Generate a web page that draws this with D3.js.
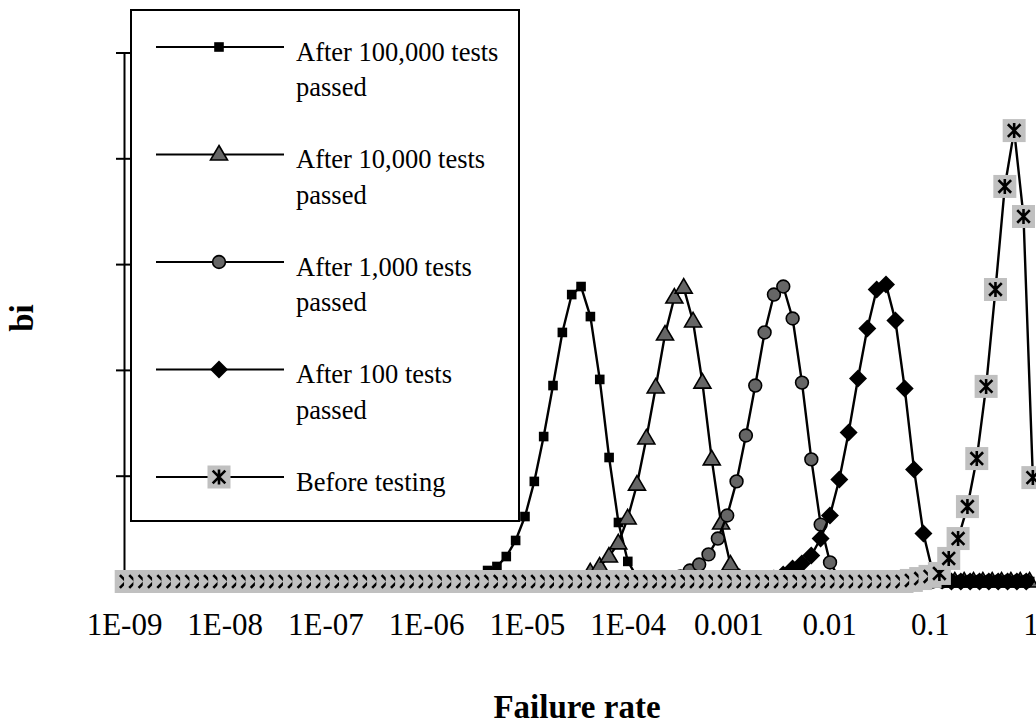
<!DOCTYPE html>
<html>
<head>
<meta charset="utf-8">
<script src="https://cdn.jsdelivr.net/npm/d3@7"></script>
<style>
    body { margin: 0; background: #fff; }
    svg { display: block; }
</style>
</head>
<body>
<script>
// distance between two neighbouring points of a series, in decades
const logStep = 0.0928;

const seriesNames = ["After 100,000 tests passed", "After 10,000 tests passed",
    "After 1,000 tests passed", "After 100 tests passed", "Before testing"];
const legendLines = [["After 100,000 tests", "passed"], ["After 10,000 tests", "passed"],
    ["After 1,000 tests", "passed"], ["After 100 tests", "passed"], ["Before testing"]];
const markerTypes = ["square", "triangle", "circle", "diamond", "star"];

// log10(failure rate) of the first listed value, and how many points sit on zero
// before / after the listed values
const startLog = [-5.483, -4.371, -3.568, -2.548, -1.183];
const leadZeros = [37, 49, 58, 69, 84];
const trailZeros = [42, 31, 20, 9, 0];

const after100000 = [0.0014, 0.0052, 0.0071, 0.0118, 0.0194, 0.0307, 0.0473, 0.0685, 0.0926,
    0.1177, 0.1356, 0.1394, 0.1252, 0.0955, 0.0586, 0.0279, 0.0095, 0.0020];
const after10000 = [0.0043, 0.0071, 0.0118, 0.0180, 0.0298, 0.0458, 0.0676, 0.0917, 0.1167,
    0.1342, 0.1389, 0.1229, 0.0940, 0.0577, 0.0274, 0.0080, 0.0014];
const after1000 = [0.0010, 0.0024, 0.0052, 0.0080, 0.0128, 0.0203, 0.0312, 0.0473, 0.0690,
    0.0926, 0.1177, 0.1356, 0.1394, 0.1243, 0.0940, 0.0577, 0.0269, 0.0090, 0.0014];
const after100 = [0.0014, 0.0033, 0.0061, 0.0085, 0.0123, 0.0203, 0.0312, 0.0482, 0.0704,
    0.0959, 0.1196, 0.1380, 0.1404, 0.1233, 0.0912, 0.0529, 0.0227, 0.0043, 0.0005];
const beforeTesting = [0.0005, 0.0014, 0.0024, 0.0038, 0.0109, 0.0203, 0.0354, 0.0581, 0.0922,
    0.1380, 0.1867, 0.2131, 0.1725, 0.0491];

const seriesValues = [after100000, after10000, after1000, after100, beforeTesting];

const xTicks = [1e-9, 1e-8, 1e-7, 1e-6, 1e-5, 1e-4, 1e-3, 1e-2, 1e-1, 1];
const xTickLabels = ["1E-09", "1E-08", "1E-07", "1E-06", "1E-05", "1E-04", "0.001", "0.01", "0.1", "1"];
const yTicks = [0.05, 0.1, 0.15, 0.2, 0.25];

let width = 1036, height = 724;

let svg = d3.select("body").append("svg")
    .attr("width", width)
    .attr("height", height)
    .style("font-family", "'Liberation Serif', 'Times New Roman', serif");

let x = d3.scaleLog().domain([1e-9, 1]).range([124, 1030.5]);
let y = d3.scaleLinear().domain([0, 0.25]).range([581.5, 52.5]);

// y axis, no labels, ticks crossing the line
let yAxis = svg.append("g")
    .attr("transform", `translate(${x(1e-9)},0)`)
    .call(d3.axisLeft(y).tickValues(yTicks).tickSize(8).tickSizeOuter(0).tickFormat(""));
yAxis.select(".domain").attr("stroke", "#000").attr("stroke-width", 2);
yAxis.selectAll(".tick line").attr("x1", 7).attr("stroke", "#000").attr("stroke-width", 2);

// x axis
let xAxis = svg.append("g")
    .attr("transform", `translate(0,${y(0)})`)
    .call(d3.axisBottom(x).tickValues(xTicks).tickSize(0).tickFormat((d, i) => xTickLabels[i]));
xAxis.select(".domain").attr("stroke", "#000").attr("stroke-width", 2);
xAxis.selectAll(".tick text")
    .attr("y", 53.5)
    .attr("dy", 0)
    .attr("fill", "#000")
    .style("font-size", "31px")
    .style("font-family", "'Liberation Serif', 'Times New Roman', serif");

svg.append("text")
    .attr("x", 577)
    .attr("y", 718)
    .attr("text-anchor", "middle")
    .style("font-size", "33px")
    .style("font-weight", "bold")
    .text("Failure rate");

svg.append("text")
    .attr("transform", "translate(33,318) rotate(-90)")
    .attr("text-anchor", "middle")
    .style("font-size", "33px")
    .style("font-weight", "bold")
    .text("bi");

function buildPoints(i) {
    let vals = d3.range(leadZeros[i]).map(() => 0)
        .concat(seriesValues[i])
        .concat(d3.range(trailZeros[i]).map(() => 0));
    let first = startLog[i] - leadZeros[i] * logStep;
    return vals.map((v, j) => ({ rate: Math.pow(10, first + j * logStep), bi: v }));
}

function drawMarker(g, type) {
    if (type === "square") {
        g.append("rect").attr("x", -4.8).attr("y", -4.8).attr("width", 9.6).attr("height", 9.6)
            .attr("fill", "#000");
    }
    else if (type === "triangle") {
        g.append("path").attr("d", "M0,-9L8.5,5.5L-8.5,5.5Z")
            .attr("fill", "#666").attr("stroke", "#000").attr("stroke-width", 1.6);
    }
    else if (type === "circle") {
        g.append("circle").attr("r", 6.4)
            .attr("fill", "#666").attr("stroke", "#000").attr("stroke-width", 1.6);
    }
    else if (type === "diamond") {
        g.append("path").attr("d", "M0,-9L9,0L0,9L-9,0Z").attr("fill", "#000");
    }
    else {
        g.append("rect").attr("x", -11.5).attr("y", -11.5).attr("width", 23).attr("height", 23)
            .attr("fill", "#c0c0c0");
        g.append("path").attr("d", "M0,-7.5V7.5M-6.3,-6.3L6.3,6.3M-6.3,6.3L6.3,-6.3")
            .attr("fill", "none").attr("stroke", "#000").attr("stroke-width", 2.6);
    }
}

let line = d3.line()
    .x(d => x(d.rate))
    .y(d => y(d.bi));

seriesValues.forEach((vals, i) => {
    let pts = buildPoints(i);
    let g = svg.append("g").attr("data-series", seriesNames[i]);

    g.append("path")
        .datum(pts)
        .attr("d", line)
        .attr("fill", "none")
        .attr("stroke", "#000")
        .attr("stroke-width", 2.4);

    g.selectAll(".pt")
        .data(pts)
        .enter()
        .append("g")
        .attr("class", "pt")
        .attr("transform", d => `translate(${x(d.rate)},${y(d.bi)})`)
        .each(function () {
            drawMarker(d3.select(this), markerTypes[i]);
        });
});

// legend box sits over the empty upper left of the plot
let legend = svg.append("g");
legend.append("rect")
    .attr("x", 131).attr("y", 10)
    .attr("width", 388).attr("height", 511)
    .attr("fill", "#fff")
    .attr("stroke", "#000")
    .attr("stroke-width", 2);

legendLines.forEach((lines, i) => {
    let rowY = 47 + i * 107.5;
    legend.append("line")
        .attr("x1", 156).attr("x2", 284)
        .attr("y1", rowY).attr("y2", rowY)
        .attr("stroke", "#000")
        .attr("stroke-width", 2.2);
    let m = legend.append("g").attr("transform", `translate(219,${rowY})`);
    drawMarker(m, markerTypes[i]);
    lines.forEach((t, k) => {
        legend.append("text")
            .attr("x", 296)
            .attr("y", rowY + 13.5 + k * 35.5)
            .style("font-size", "26.5px")
            .text(t);
    });
});
</script>
</body>
</html>
